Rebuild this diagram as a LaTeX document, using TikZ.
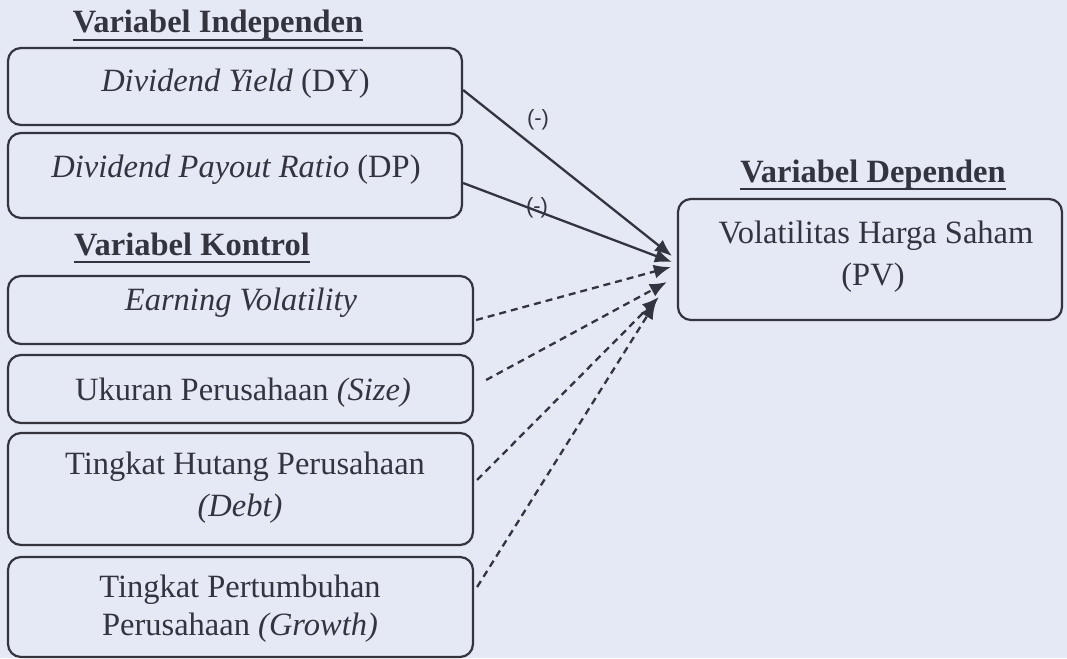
\documentclass[tikz,border=0pt]{standalone}
\usepackage{fontspec}
\setmainfont{Liberation Serif}
\newfontfamily\lsans{Liberation Sans}
\usetikzlibrary{arrows.meta}
\definecolor{bgc}{HTML}{E5E9F5}
\definecolor{inkc}{HTML}{34343F}
\begin{document}
\begin{tikzpicture}[x=1pt,y=-1pt,
  boxst/.style={draw=inkc, line width=2.2pt, rounded corners=13pt, inner sep=0pt},
  txt/.style={text=inkc, font=\fontsize{32.5}{38}\selectfont, anchor=base, inner sep=0pt},
  ttl/.style={txt, font=\fontsize{32.5}{38}\selectfont\bfseries},
  uline/.style={draw=inkc, line width=2.8pt},
  sgn/.style={text=inkc, font=\lsans\fontsize{22}{26}\selectfont, inner sep=0pt},
  solidarrow/.style={draw=inkc, line width=2.3pt, -{Latex[length=17pt,width=14pt]}},
  dasharrow/.style={solidarrow, dash pattern=on 7pt off 5pt}]
\fill[bgc] (0,0) rectangle (1067,658);
\useasboundingbox (0,0) rectangle (1067,658);

% titles
\node[ttl] (TI) at (218,33) {Variabel Independen};
\node[ttl] (TK) at (192,255) {Variabel Kontrol};
\node[ttl] (TD) at (873,182) {Variabel Dependen};
\foreach \t in {TI,TK,TD}
  \draw[uline] ([yshift=-7pt]\t.base west) -- ([yshift=-7pt]\t.base east);

% boxes
\node[boxst, minimum width=454pt, minimum height=77pt] (DY) at (235,86.5) {};
\node[boxst, minimum width=454pt, minimum height=85pt] (DP) at (235,175.5) {};
\node[boxst, minimum width=465pt, minimum height=68pt] (EV) at (240.5,310) {};
\node[boxst, minimum width=465pt, minimum height=68pt] (UK) at (240.5,389) {};
\node[boxst, minimum width=465pt, minimum height=112pt] (DB) at (240.5,489) {};
\node[boxst, minimum width=465pt, minimum height=100pt] (GR) at (240.5,607) {};
\node[boxst, minimum width=384pt, minimum height=121pt] (PV) at (870,259.5) {};

% texts
\node[txt] (DYt) at (235.5,92) {\textit{Dividend Yield} (DY)};
\node[txt] (DPt) at (236,177) {\textit{Dividend Payout Ratio} (DP)};
\node[txt] (EVt) at (241,310) {\textit{Earning Volatility}};
\node[txt] (UKt) at (243,400) {Ukuran Perusahaan \textit{(Size)}};
\node[txt] (DBt1) at (245,474) {Tingkat Hutang Perusahaan};
\node[txt] (DBt2) at (240,516) {\textit{(Debt)}};
\node[txt] (GRt1) at (240,597) {Tingkat Pertumbuhan};
\node[txt] (GRt2) at (240,635) {Perusahaan \textit{(Growth)}};
\node[txt] (PVt1) at (876,243) {Volatilitas Harga Saham};
\node[txt] (PVt2) at (873,285) {(PV)};

% connectors
\draw[solidarrow] ([yshift=-3.5pt]DY.east) -- ([xshift=-5pt,yshift=3.5pt]PV.west);
\draw[solidarrow] ([yshift=-7.5pt]DP.east) -- ([xshift=-5pt,yshift=-2.5pt]PV.west);
\draw[dasharrow] ([xshift=2pt,yshift=-10pt]EV.east) -- ([xshift=-6pt,yshift=-7.5pt]PV.west);
\draw[dasharrow] ([xshift=12pt,yshift=9pt]UK.east) -- ([xshift=-10pt,yshift=-22.5pt]PV.west);
\draw[dasharrow] ([xshift=3pt,yshift=9pt]DB.east) -- ([xshift=-18pt,yshift=-37.5pt]PV.west);
\draw[dasharrow] ([xshift=3pt,yshift=20pt]GR.east) -- ([xshift=-21pt,yshift=-42.5pt]PV.west);

% signs
\node[sgn] (S1) at (538,120) {(-)};
\node[sgn] (S2) at (537,208) {(-)};
\end{tikzpicture}
\end{document}
